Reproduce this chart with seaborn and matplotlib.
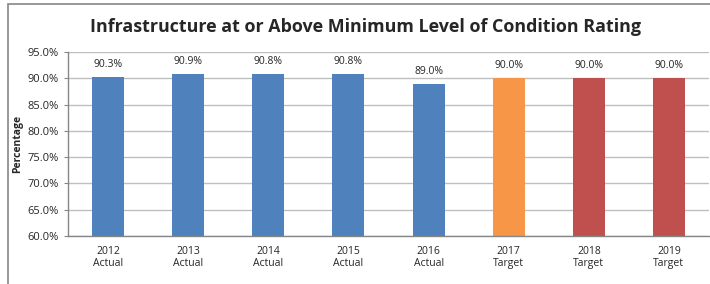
import seaborn as sns
import matplotlib.pyplot as plt
import pandas as pd
from matplotlib.patches import Rectangle
from matplotlib.ticker import FixedLocator, PercentFormatter

sns.set_style("white")
plt.rcParams["font.family"] = ["Open Sans", "DejaVu Sans"]

# data
years = ["2012", "2013", "2014", "2015", "2016", "2017", "2018", "2019"]
kinds = ["Actual", "Actual", "Actual", "Actual", "Actual", "Target", "Target", "Target"]
values = [90.3, 90.9, 90.8, 90.8, 89.0, 90.0, 90.0, 90.0]
colors = ["#4F81BD"] * 5 + ["#F79646"] + ["#C0504D"] * 2

labels = [f"{y}\n{k}" for y, k in zip(years, kinds)]
df = pd.DataFrame({"Category": labels, "Value": values})

fig = plt.figure(figsize=(7.1, 2.84), dpi=100)
ax = fig.add_axes([68 / 710, 48 / 284, 641 / 710, 184 / 284])

sns.barplot(data=df, x="Category", y="Value", hue="Category",
            palette=colors, width=0.4, saturation=1, legend=False,
            linewidth=0, ax=ax)

ax.set_ylim(60, 95)
ax.set_xlim(-0.5, len(labels) - 0.5)
ax.set_yticks([60, 65, 70, 75, 80, 85, 90, 95])
ax.yaxis.set_major_formatter(PercentFormatter(decimals=1))
ax.yaxis.grid(True, color="#BFBFBF", linewidth=1)
ax.set_axisbelow(True)

for s in ["top", "right"]:
    ax.spines[s].set_visible(False)
for s in ["left", "bottom"]:
    ax.spines[s].set_color("#868686")
    ax.spines[s].set_linewidth(1)

ax.tick_params(axis="x", which="major", length=0, labelsize=7.5, colors="#262626", pad=7)
ax.xaxis.set_minor_locator(FixedLocator([i - 0.5 for i in range(len(labels) + 1)]))
ax.tick_params(axis="x", which="minor", length=4, color="#868686", direction="out")
ax.tick_params(axis="y", length=3, color="#868686", labelsize=8, colors="#262626", left=True)

for i, v in enumerate(values):
    ax.annotate(f"{v:.1f}%", (i, v), xytext=(0, 5), textcoords="offset points",
                ha="center", va="bottom", fontsize=7.5, color="#262626")

ax.set_xlabel("")
ax.set_ylabel("Percentage", fontsize=7.5, fontweight="bold", labelpad=3)
fig.suptitle("Infrastructure at or Above Minimum Level of Condition Rating",
             x=366 / 710, y=1 - 27 / 284, va="center", fontsize=12.9, fontweight="bold")

fig.patches.append(Rectangle((8 / 710, -0.1), 2, 1 - 4 / 284 + 0.1, transform=fig.transFigure,
                             fill=False, edgecolor="#868686", linewidth=1.2))

fig.savefig("out.png", dpi=100)
plt.close(fig)
